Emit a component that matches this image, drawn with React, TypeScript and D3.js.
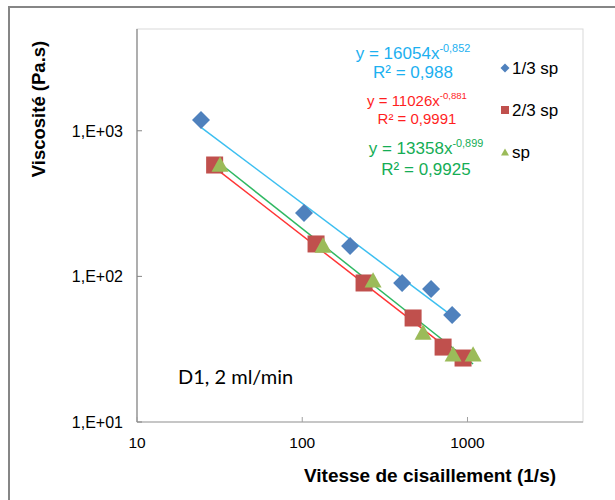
import React from "react";
import * as d3 from "d3";

// ---- data ----
const seriesNames = ["1/3 sp", "2/3 sp", "sp"];
const xThird = [24.4, 102.5, 194.7, 402, 602, 807];
const yThird = [1186, 272, 162, 90, 82, 54.3];
const xTwoThird = [29.5, 121.2, 236.6, 468.6, 711.7, 940];
const yTwoThird = [582, 167, 90.1, 51.8, 32.7, 27.5];
const xFull = [31.8, 133.6, 268.3, 538.6, 818.5, 1081];
const yFull = [590, 164.3, 94.5, 41.5, 29.4, 29.4];
// power-law trendlines y = a * x^b
const fitA = [16054, 11026, 13358];
const fitB = [-0.852, -0.881, -0.899];
const fitA_label = ["16054", "11026", "13358"];
const fitB_label = ["-0,852", "-0,881", "-0,899"];
const r2Labels = ["R² = 0,988", "R² = 0,9991", "R² = 0,9925"];
const xTicks = [10, 100, 1000];
const yTicks = [10, 100, 1000];

const W = 615;
const H = 500;
const plot = { left: 137, right: 583, top: 29, bottom: 422 };
const FONT = "'Liberation Sans', Arial, sans-serif";

const markerColors = ["#4f81bd", "#c0504d", "#9bbb59"];
const lineColors = ["#3dbff0", "#ff3535", "#2fb862"];
const textColors = ["#1cb0f0", "#ff1f1f", "#14ad55"];

function Marker({ kind, x, y, s, color }: { kind: number; x: number; y: number; s: number; color: string }) {
  if (kind === 0) {
    const r = s / 2;
    return <path d={`M${x},${y - r}L${x + r},${y}L${x},${y + r}L${x - r},${y}Z`} fill={color} />;
  }
  if (kind === 1) {
    return <rect x={x - s / 2} y={y - s / 2} width={s} height={s} fill={color} />;
  }
  const h = s * 0.9;
  return <path d={`M${x},${y - h / 2}L${x + s / 2},${y + h / 2}L${x - s / 2},${y + h / 2}Z`} fill={color} />;
}

export default function App() {
  const xs = d3.scaleLog().domain([10, 5000]).range([plot.left, plot.right]);
  const ys = d3.scaleLog().domain([10, 5000]).range([plot.bottom, plot.top]);
  const series = [
    { x: xThird, y: yThird },
    { x: xTwoThird, y: yTwoThird },
    { x: xFull, y: yFull },
  ];
  const line = d3
    .line<number[]>()
    .x((d) => xs(d[0]))
    .y((d) => ys(d[1]));

  const eqPos = [
    { x: 413, y: 59, fs: 17 },
    { x: 417, y: 106, fs: 15 },
    { x: 426, y: 154, fs: 17 },
  ];
  const r2Pos = [78, 124, 175];
  const legendY = [68, 110, 152];

  const fmtY = (v: number) => `1,E+${String(Math.round(Math.log10(v))).padStart(2, "0")}`;

  return (
    <svg
      width={W}
      height={H}
      style={{ position: "absolute", left: 0, top: 0, background: "#fff" }}
      fontFamily={FONT}
    >
      <rect x={0} y={0} width={W} height={H} fill="#fff" />
      <rect x={9} y={7} width={W} height={H} fill="#fff" stroke="#868686" strokeWidth={2} />
      {/* plot area */}
      <rect
        x={plot.left}
        y={plot.top}
        width={plot.right - plot.left}
        height={plot.bottom - plot.top}
        fill="#fff"
        stroke="#d9d9d9"
        strokeWidth={1}
      />
      <line x1={plot.left} x2={plot.left} y1={plot.top} y2={plot.bottom} stroke="#868686" strokeWidth={1.2} />
      <line x1={plot.left} x2={plot.right} y1={plot.bottom} y2={plot.bottom} stroke="#a0a0a0" strokeWidth={1.2} />
      {xTicks.map((t) => (
        <g key={"xt" + t}>
          <line x1={xs(t)} x2={xs(t)} y1={plot.bottom} y2={plot.bottom - 5} stroke="#a0a0a0" />
          <text x={xs(t)} y={448} fontSize={15.5} textAnchor="middle" fill="#000">
            {String(t)}
          </text>
        </g>
      ))}
      {yTicks.map((t) => (
        <g key={"yt" + t}>
          <line x1={plot.left} x2={plot.left + 5} y1={ys(t)} y2={ys(t)} stroke="#868686" />
          <text x={123} y={ys(t)} dy="0.36em" fontSize={16} textAnchor="end" fill="#000">
            {fmtY(t)}
          </text>
        </g>
      ))}

      {/* trendlines */}
      {series.map((s, i) => {
        const x0 = d3.min(s.x) as number;
        const x1 = d3.max(s.x) as number;
        const pts = [x0, x1].map((x) => [x, fitA[i] * Math.pow(x, fitB[i])]);
        return <path key={"fit" + i} d={line(pts) || ""} fill="none" stroke={lineColors[i]} strokeWidth={1.5} />;
      })}

      {/* markers */}
      {series.map((s, i) =>
        s.x.map((xv, j) => (
          <Marker key={`m${i}-${j}`} kind={i} x={xs(xv)} y={ys(s.y[j])} s={i === 0 ? 18 : 17} color={markerColors[i]} />
        ))
      )}

      {/* equations */}
      {eqPos.map((p, i) => (
        <g key={"eq" + i} fill={textColors[i]}>
          <text x={p.x} y={p.y} fontSize={p.fs} textAnchor="middle">
            <tspan>{`y = ${fitA_label[i]}x`}</tspan>
            <tspan fontSize={p.fs * 0.64} dy={-7}>
              {fitB_label[i]}
            </tspan>
          </text>
          <text x={p.x} y={r2Pos[i]} fontSize={p.fs} textAnchor="middle">
            {r2Labels[i]}
          </text>
        </g>
      ))}

      {/* legend */}
      {seriesNames.map((n, i) => (
        <g key={"lg" + i}>
          <Marker kind={i} x={505} y={legendY[i]} s={i === 0 ? 9 : 8} color={markerColors[i]} />
          <text x={512} y={legendY[i]} dy="0.36em" fontSize={17} fill="#000">
            {n}
          </text>
        </g>
      ))}

      <text x={178} y={384} fontSize={20} fontFamily="Lato, 'Open Sans', sans-serif" fill="#000">
        D1, 2 ml/min
      </text>

      {/* axis titles */}
      <text x={430} y={482} fontSize={19} fontWeight="bold" textAnchor="middle" fill="#000">
        Vitesse de cisaillement (1/s)
      </text>
      <text
        transform="translate(45,109) rotate(-90)"
        fontSize={18.5}
        fontWeight="bold"
        textAnchor="middle"
        fill="#000"
      >
        Viscosité (Pa.s)
      </text>
    </svg>
  );
}
